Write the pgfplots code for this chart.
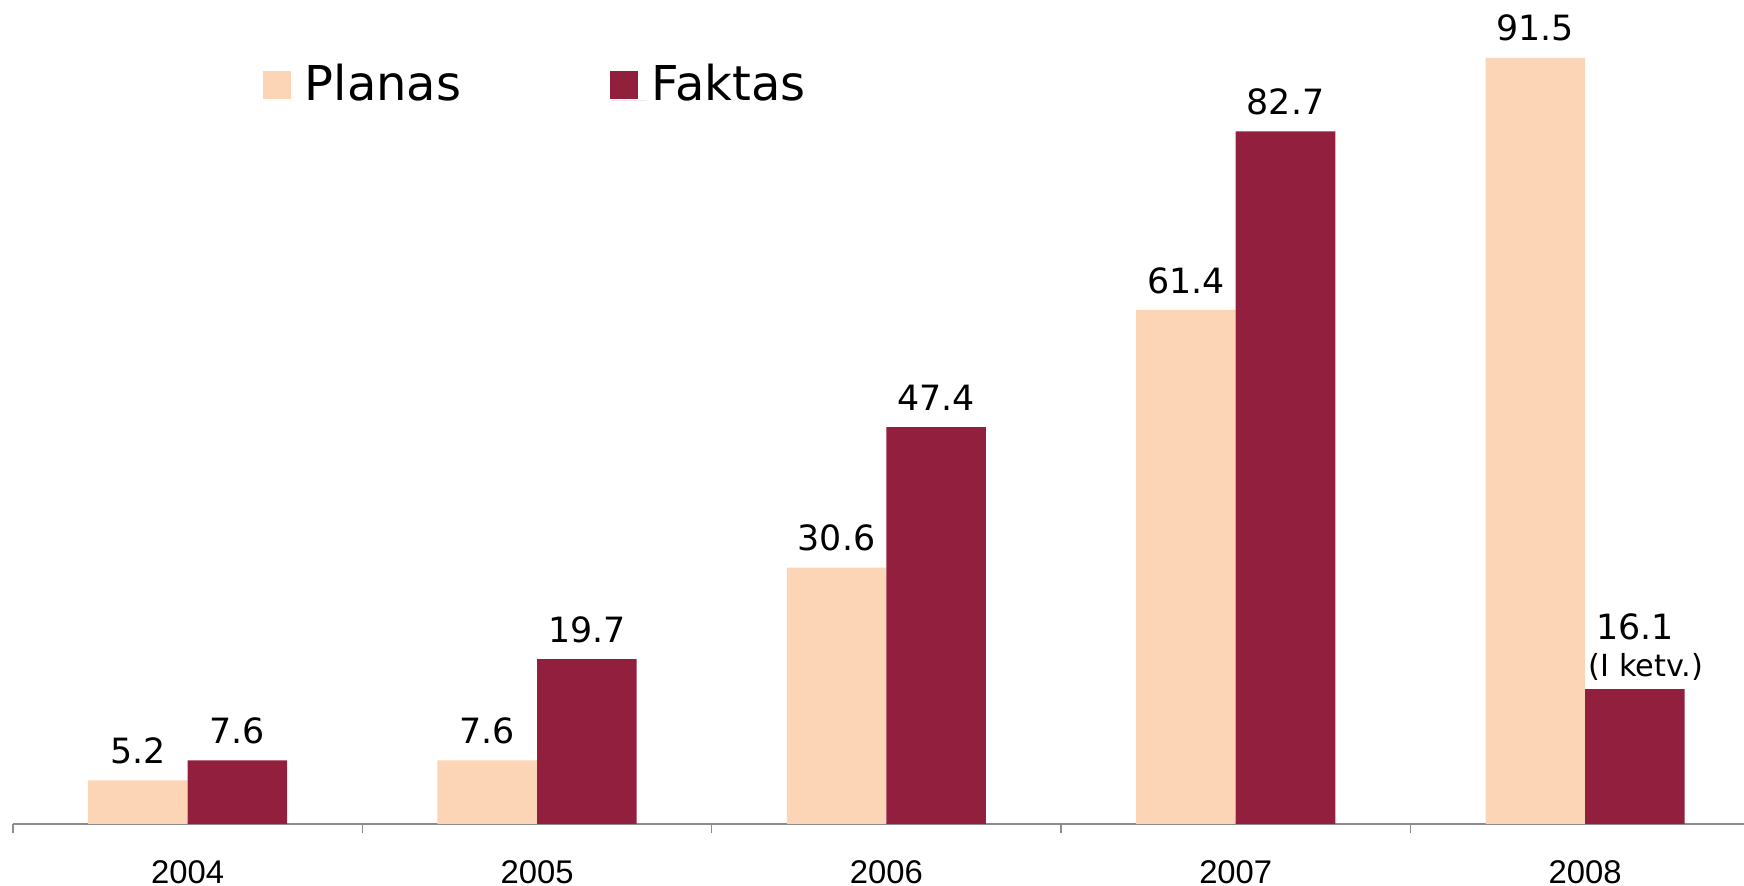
\documentclass[border=0pt]{standalone}
\usepackage{fontspec}
\usepackage{pgfplots}
\pgfplotsset{compat=1.18}
\setmainfont{DejaVu Sans}
\newfontfamily\arial{Liberation Sans}
\definecolor{plan}{HTML}{FBD5B5}
\definecolor{fakt}{HTML}{921F3E}
\definecolor{axgray}{HTML}{8C8C8C}
\pgfplotsset{sqlegend/.style={legend image code/.code={\path (0pt,0pt) -- (9pt,0pt);\fill[##1] (0pt,0.6pt) rectangle (7pt,7.6pt);}}}
\begin{document}
\begin{tikzpicture}
\begin{axis}[
  at={(0,0)}, anchor=south west,
  scale only axis, width=432.75pt, height=206pt,
  xmin=-0.5, xmax=4.455, ymin=0, ymax=98.4,
  enlargelimits=false, clip=false,
  axis x line=bottom, axis y line=none,
  x axis line style={-, draw=axgray, line width=0.5pt},
  ybar,
  xtick={0,1,2,3,4}, xticklabels={2004,2005,2006,2007,2008},
  major tick length=0pt,
  minor xtick={-0.5,0.5,1.5,2.5,3.5},
  minor tick length=2.25pt, tick align=outside,
  minor tick style={draw=axgray, line width=0.3pt},
  xticklabel style={font=\arial\fontsize{8.2}{10}\selectfont, anchor=base, inner sep=0pt, yshift=-15pt},
  nodes near coords,
  point meta=explicit symbolic,
  every node near coord/.append style={font=\fontsize{8.7}{10.5}\selectfont, anchor=base, inner sep=0pt, yshift=4.2pt, text=black},
  every axis plot post/.append style={sqlegend},
  legend columns=2,
  legend style={at={(0.1441,0.896)}, anchor=west, draw=none, fill=none, inner sep=0pt,
    font=\fontsize{12}{14}\selectfont, nodes={inner sep=1.4pt}, cells={anchor=base},
    /tikz/column 2/.style={column sep=35.8pt}},
]
\addplot[fill=plan, draw=none, bar width=0.285, bar shift=-0.1425] coordinates {
  (0,5.2) [5.2] (1,7.6) [7.6] (2,30.6) [30.6] (3,61.4) [61.4] (4,91.5) [91.5]
};
\addlegendentry{Planas}
\addplot[fill=fakt, draw=none, bar width=0.285, bar shift=0.1425] coordinates {
  (0,7.6) [7.6] (1,19.7) [19.7] (2,47.4) [47.4] (3,82.7) [82.7]
  (4,16.1) [{\begin{tabular}[b]{@{}c@{}}16.1\\[-2.4pt]\hspace*{5.6pt}\raisebox{-1.1pt}{\fontsize{7.6}{8}\selectfont (I ketv.)}\end{tabular}}]
};
\addlegendentry{Faktas}
\end{axis}
\pgfresetboundingbox
\path[use as bounding box] (-3.25pt,-15.5pt) rectangle (432.75pt,206pt);
\end{tikzpicture}
\end{document}
